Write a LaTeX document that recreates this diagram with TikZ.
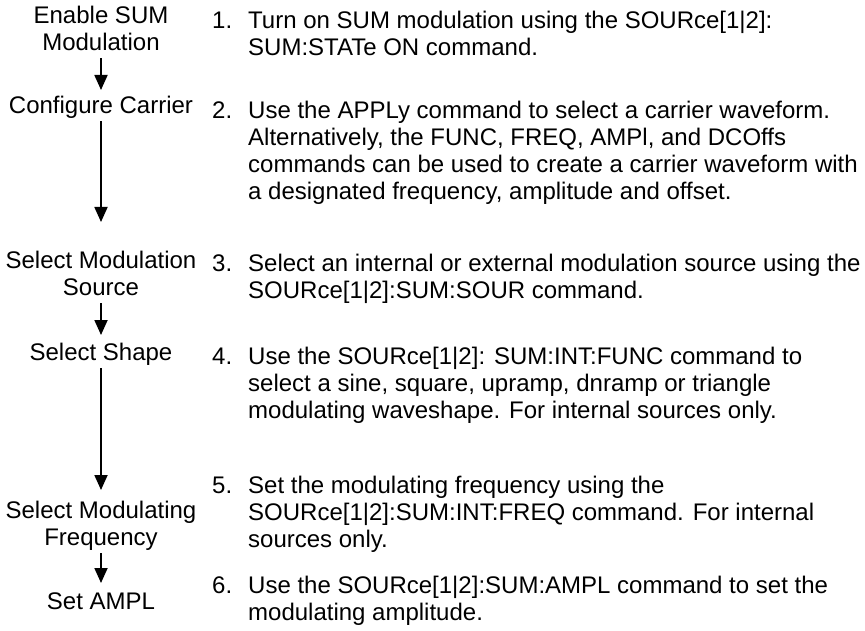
\documentclass[tikz,border=0pt]{standalone}
\usepackage{fontspec}
\setmainfont{Liberation Sans}
\usetikzlibrary{arrows.meta}
\newcommand\lstrut{\rule[-8pt]{0pt}{27pt}}
\newcommand\ind{\hspace*{36pt}}
\newcommand\stepno[1]{\makebox[36pt][l]{#1}}
\begin{document}
\begin{tikzpicture}[x=1pt,y=-1pt,
  lab/.style={anchor=north, inner sep=0pt, align=center, font=\fontsize{24}{27}\selectfont},
  desc/.style={anchor=north west, inner sep=0pt, align=left, font=\fontsize{24}{27}\selectfont},
  flow/.style={line width=1.8pt, -{Triangle[width=13pt,length=15pt]}}]
\fill[white] (0,0) rectangle (865,631);
\useasboundingbox (0,0) rectangle (865,631);
% left labels
\node[lab] (l1) at (101,4)   {\lstrut Enable SUM\\\lstrut Modulation};
\node[lab] (l2) at (101,94)  {\lstrut Configure Carrier};
\node[lab] (l3) at (101,249) {\lstrut Select Modulation\\\lstrut Source};
\node[lab] (l4) at (101,341) {\lstrut Select Shape};
\node[lab] (l5) at (101,499) {\lstrut Select Modulating\\\lstrut Frequency};
\node[lab] (l6) at (101,590) {\lstrut Set AMPL};
% arrows
\draw[flow] (l1.south) -- ([yshift=4pt]l2.north);
\draw[flow] (l2.south) -- ([yshift=27pt]l3.north);
\draw[flow] (l3.south) -- ([yshift=6pt]l4.north);
\draw[flow] (l4.south) -- ([yshift=9pt]l5.north);
\draw[flow] (l5.south) -- ([yshift=7pt]l6.north);
% descriptions
\node[desc] (d1) at (212,9) {\lstrut\stepno{1.}Turn on SUM modulation using the SOURce[1|2]:\\
  \ind SUM:STATe ON command.};
\node[desc] (d2) at (212,99) {\lstrut\stepno{2.}Use the APPLy command to select a carrier waveform.\\
  \ind Alternatively, the FUNC, FREQ, AMPl, and DCOffs\\
  \ind commands can be used to create a carrier waveform with\\
  \ind a designated frequency, amplitude and offset.};
\node[desc] (d3) at (212,252) {\lstrut\stepno{3.}Select an internal or external modulation source using the\\
  \ind SOURce[1|2]:SUM:SOUR command.};
\node[desc] (d4) at (212,345) {\lstrut\stepno{4.}Use the SOURce[1|2]: SUM:INT:FUNC command to\\
  \ind select a sine, square, upramp, dnramp or triangle\\
  \ind modulating waveshape. For internal sources only.};
\node[desc] (d5) at (212,474) {\lstrut\stepno{5.}Set the modulating frequency using the\\
  \ind SOURce[1|2]:SUM:INT:FREQ command. For internal\\
  \ind sources only.};
\node[desc] (d6) at (212,574) {\lstrut\stepno{6.}Use the SOURce[1|2]:SUM:AMPL command to set the\\
  \ind modulating amplitude.};
\end{tikzpicture}
\end{document}
